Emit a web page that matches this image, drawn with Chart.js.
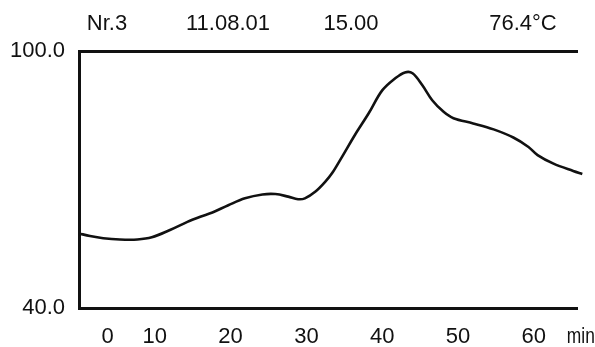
<!DOCTYPE html>
<html>
<head>
<meta charset="utf-8">
<style>
  html, body { margin: 0; padding: 0; background: #ffffff; }
  #wrap { width: 595px; height: 347px; position: relative; }
</style>
<script src="https://cdn.jsdelivr.net/npm/chart.js@4/dist/chart.umd.min.js"></script>
</head>
<body>
<div id="wrap"><canvas id="c" width="595" height="347"></canvas></div>
<script>
// Temperature log, recorder channel Nr.3
const headerTexts = ['Nr.3', '11.08.01', '15.00', '76.4\u00B0C'];
const timeMin = [0, 1.45, 3.2, 5.4, 7.7, 9.6, 12.0, 14.3, 16.0, 17.6, 19.7, 21.9, 24.2, 25.9, 27.6, 28.9, 29.8, 31.2, 32.5, 33.4, 34.7, 36.4, 38.2, 40.0, 41.7, 43.0, 44.0, 45.3, 46.6, 48.1, 49.4, 52.0, 54.7, 57.3, 59.3, 60.5, 62.6, 65.2, 66.4];
const tempC = [57.4, 56.8, 56.3, 56.0, 56.0, 56.5, 58.2, 60.1, 61.3, 62.3, 64.0, 65.6, 66.5, 66.6, 66.0, 65.4, 65.6, 67.2, 69.5, 71.5, 75.3, 80.4, 85.4, 90.8, 93.6, 95.0, 94.8, 92.0, 88.5, 85.8, 84.3, 83.1, 81.7, 79.8, 77.6, 75.7, 73.7, 72.0, 71.3];
const xTicks = [10, 20, 30, 40, 50, 60];
const yTicks = [40, 100];
const xFirstLabel = '0';
const xUnit = 'min';

const FONT = '"Liberation Sans", Arial, Helvetica, sans-serif';
const INK = '#111111';

const points = timeMin.map((t, i) => ({ x: t, y: tempC[i] }));

// Header line, the "0" start label and the unit label
const textPlugin = {
  id: 'recorderText',
  afterDraw(chart) {
    const ctx = chart.ctx;
    const xs = chart.scales.x;
    ctx.save();
    ctx.fillStyle = INK;
    ctx.font = '22px ' + FONT;
    ctx.textBaseline = 'alphabetic';
    ctx.textAlign = 'center';
    const headerX = [107, 228, 351, 523];
    headerTexts.forEach((t, i) => ctx.fillText(t, headerX[i], 29.5));
    ctx.fillText(xFirstLabel, xs.left + 28.5, 343);
    ctx.textAlign = 'left';
    ctx.fillText(xUnit, xs.getPixelForValue(60) + 33, 343, 28);
    ctx.restore();
  }
};

new Chart(document.getElementById('c'), {
  type: 'line',
  data: {
    datasets: [{
      data: points,
      borderColor: INK,
      borderWidth: 2.6,
      pointRadius: 0,
      tension: 0.35,
      fill: false,
      clip: false
    }]
  },
  options: {
    responsive: false,
    animation: false,
    layout: { padding: { top: 51, right: 18, bottom: 0, left: 0 } },
    plugins: { legend: { display: false }, tooltip: { enabled: false }, title: { display: false } },
    scales: {
      x: {
        type: 'linear',
        position: 'bottom',
        min: 0,
        max: 65.7,
        afterBuildTicks: s => { s.ticks = xTicks.map(v => ({ value: v })); },
        afterFit: s => { s.height = 39; },
        grid: { display: true, color: 'transparent', drawTicks: false },
        border: { display: true, color: INK, width: 3 },
        ticks: { color: INK, font: { family: FONT, size: 22 }, padding: 16, maxRotation: 0, autoSkip: false }
      },
      xTop: {
        type: 'linear',
        position: 'top',
        min: 0,
        max: 65.7,
        afterFit: s => { s.height = 0; },
        grid: { display: true, color: 'transparent', drawTicks: false },
        border: { display: true, color: INK, width: 3 },
        ticks: { display: false }
      },
      y: {
        type: 'linear',
        min: 40,
        max: 100,
        afterBuildTicks: s => { s.ticks = yTicks.map(v => ({ value: v })); },
        afterFit: s => { s.width = 79; },
        grid: { display: true, color: 'transparent', drawTicks: false },
        border: { display: true, color: INK, width: 3 },
        ticks: { color: INK, font: { family: FONT, size: 22 }, padding: 14, callback: v => Number(v).toFixed(1) }
      }
    }
  },
  plugins: [textPlugin]
});
</script>
</body>
</html>
